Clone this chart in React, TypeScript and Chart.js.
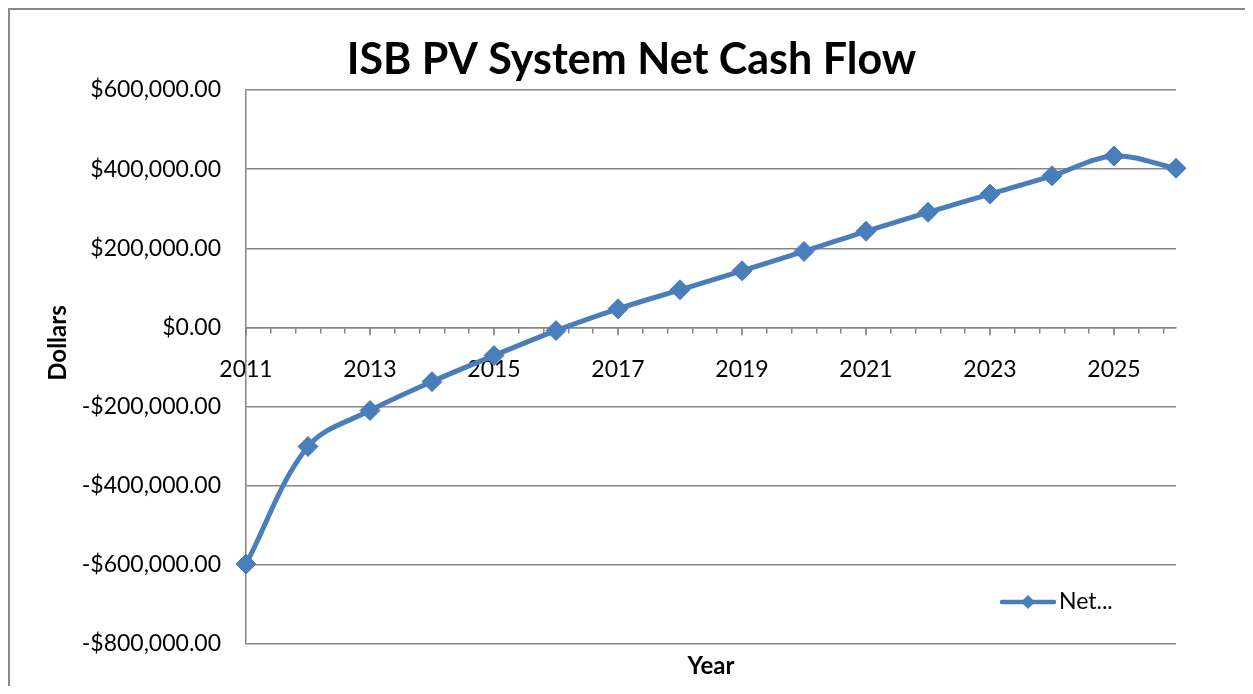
import { useEffect, useRef } from 'react';
import { Chart, registerables } from 'chart.js';

Chart.register(...registerables);

const chartTitle = 'ISB PV System Net Cash Flow';
const seriesLabel = 'Net...';
const xAxisTitle = 'Year';
const yAxisTitle = 'Dollars';

const years = [2011, 2012, 2013, 2014, 2015, 2016, 2017, 2018, 2019, 2020, 2021, 2022, 2023, 2024, 2025, 2026];
const netCashFlow = [-598000, -301000, -210000, -137000, -71000, -8000, 47000, 95000, 143000, 192000, 243000, 291000, 337000, 383000, 433000, 402000];
const xTickLabels = ['2011', '2013', '2015', '2017', '2019', '2021', '2023', '2025'];
const yMin = -800000;
const yMax = 600000;
const yStep = 200000;
const xMin = 2011;
const xMax = 2026;
const xMinorStep = 0.4;

const FONT = 'Lato, "Open Sans", sans-serif';
const BLUE = '#4A7EBB';
const GRID = '#868686';

const minorTicks = Array.from({ length: 38 }, (_, k) => ({ value: xMin + k * xMinorStep }));

const fmtDollar = (v: number) =>
  (v < 0 ? '-' : '') + '$' + Math.abs(v).toLocaleString('en-US', { minimumFractionDigits: 2, maximumFractionDigits: 2 });

const decorPlugin = {
  id: 'decor',
  beforeDraw(chart: any) {
    const ctx = chart.ctx;
    ctx.save();
    ctx.fillStyle = '#ffffff';
    ctx.fillRect(0, 0, chart.width, chart.height);
    ctx.restore();
  },
  afterDraw(chart: any) {
    const { ctx, chartArea, scales } = chart;
    const xs = scales.x;
    const ys = scales.y;
    ctx.save();
    // outer frame
    ctx.strokeStyle = '#8a8a8a';
    ctx.lineWidth = 2;
    ctx.strokeRect(1, 1, chart.width + 40, chart.height + 40);
    // chart title
    ctx.fillStyle = '#000';
    ctx.font = `bold 43px ${FONT}`;
    ctx.textAlign = 'center';
    ctx.textBaseline = 'middle';
    ctx.fillText(chartTitle, chart.width / 2 + 1, 52.5);
    // major ticks (longer)
    const y0 = ys.getPixelForValue(0);
    ctx.strokeStyle = GRID;
    ctx.lineWidth = 1.5;
    xTickLabels.forEach((l) => {
      const px = xs.getPixelForValue(Number(l));
      ctx.beginPath();
      ctx.moveTo(px, y0);
      ctx.lineTo(px, y0 + 8);
      ctx.stroke();
    });
    // axis titles
    ctx.fillStyle = '#000';
    ctx.font = `bold 24px ${FONT}`;
    ctx.textAlign = 'center';
    ctx.textBaseline = 'middle';
    ctx.fillText(xAxisTitle, (chartArea.left + chartArea.right) / 2, 658);
    ctx.save();
    ctx.translate(50, 335);
    ctx.rotate(-Math.PI / 2);
    ctx.fillText(yAxisTitle, 0, 0);
    ctx.restore();
    // legend
    const ly = 594;
    ctx.strokeStyle = BLUE;
    ctx.lineWidth = 4.5;
    ctx.lineCap = 'round';
    ctx.beginPath();
    ctx.moveTo(994, ly);
    ctx.lineTo(1046, ly);
    ctx.stroke();
    ctx.fillStyle = BLUE;
    ctx.beginPath();
    const r = 7;
    ctx.moveTo(1020, ly - r);
    ctx.lineTo(1020 + r, ly);
    ctx.lineTo(1020, ly + r);
    ctx.lineTo(1020 - r, ly);
    ctx.closePath();
    ctx.fill();
    ctx.fillStyle = '#000';
    ctx.font = `23px ${FONT}`;
    ctx.textAlign = 'left';
    ctx.fillText(chart.data.datasets[0].label, 1051, ly);
    ctx.restore();
  },
};

export default function App() {
  const ref = useRef<HTMLCanvasElement>(null);
  useEffect(() => {
    const chart = new Chart(ref.current as HTMLCanvasElement, {
      type: 'line',
      data: {
        datasets: [
          {
            label: seriesLabel,
            data: years.map((yr, i) => ({ x: yr, y: netCashFlow[i] })),
            borderColor: BLUE,
            backgroundColor: BLUE,
            borderWidth: 5,
            tension: 0.35,
            pointStyle: 'rectRot',
            pointRadius: 10,
            pointBackgroundColor: BLUE,
            pointBorderColor: BLUE,
            pointBorderWidth: 1,
            clip: false,
          } as any,
        ],
      },
      options: {
        animation: false,
        responsive: false,
        devicePixelRatio: 1,
        layout: { padding: { left: 0, right: 77, top: 82, bottom: 50 } },
        plugins: {
          legend: { display: false },
          tooltip: { enabled: false },
          title: { display: false },
        },
        scales: {
          x: {
            type: 'linear',
            position: { y: 0 } as any,
            min: xMin,
            max: xMax,
            afterBuildTicks: (s: any) => {
              s.ticks = minorTicks.map((t) => ({ ...t }));
            },
            ticks: {
              autoSkip: false,
              maxRotation: 0,
              color: '#000',
              font: { family: FONT, size: 23 },
              padding: 23,
              callback: (value: any) => {
                const v = Number(value);
                const yr = Math.round(v);
                return Math.abs(v - yr) < 1e-6 && xTickLabels.includes(String(yr)) ? String(yr) : '';
              },
            },
            grid: { drawOnChartArea: false, drawTicks: true, tickLength: 5, color: GRID, lineWidth: 1.5 },
            border: { display: true, color: GRID, width: 1.5 },
          },
          y: {
            type: 'linear',
            min: yMin,
            max: yMax,
            afterFit: (s: any) => {
              s.width = 238;
            },
            ticks: {
              stepSize: yStep,
              color: '#000',
              font: { family: FONT, size: 23 },
              padding: 25,
              callback: (value: any) => fmtDollar(Number(value)),
            },
            grid: { color: GRID, lineWidth: 1.5, drawTicks: false },
            border: { display: true, color: GRID, width: 1.5 },
          },
        },
      },
      plugins: [decorPlugin],
    });
    return () => chart.destroy();
  }, []);
  return (
    <div style={{ width: 1245, height: 686, marginBottom: -8, overflow: 'hidden' }}>
      <canvas ref={ref} width={1245} height={686} style={{ display: 'block' }} />
    </div>
  );
}
